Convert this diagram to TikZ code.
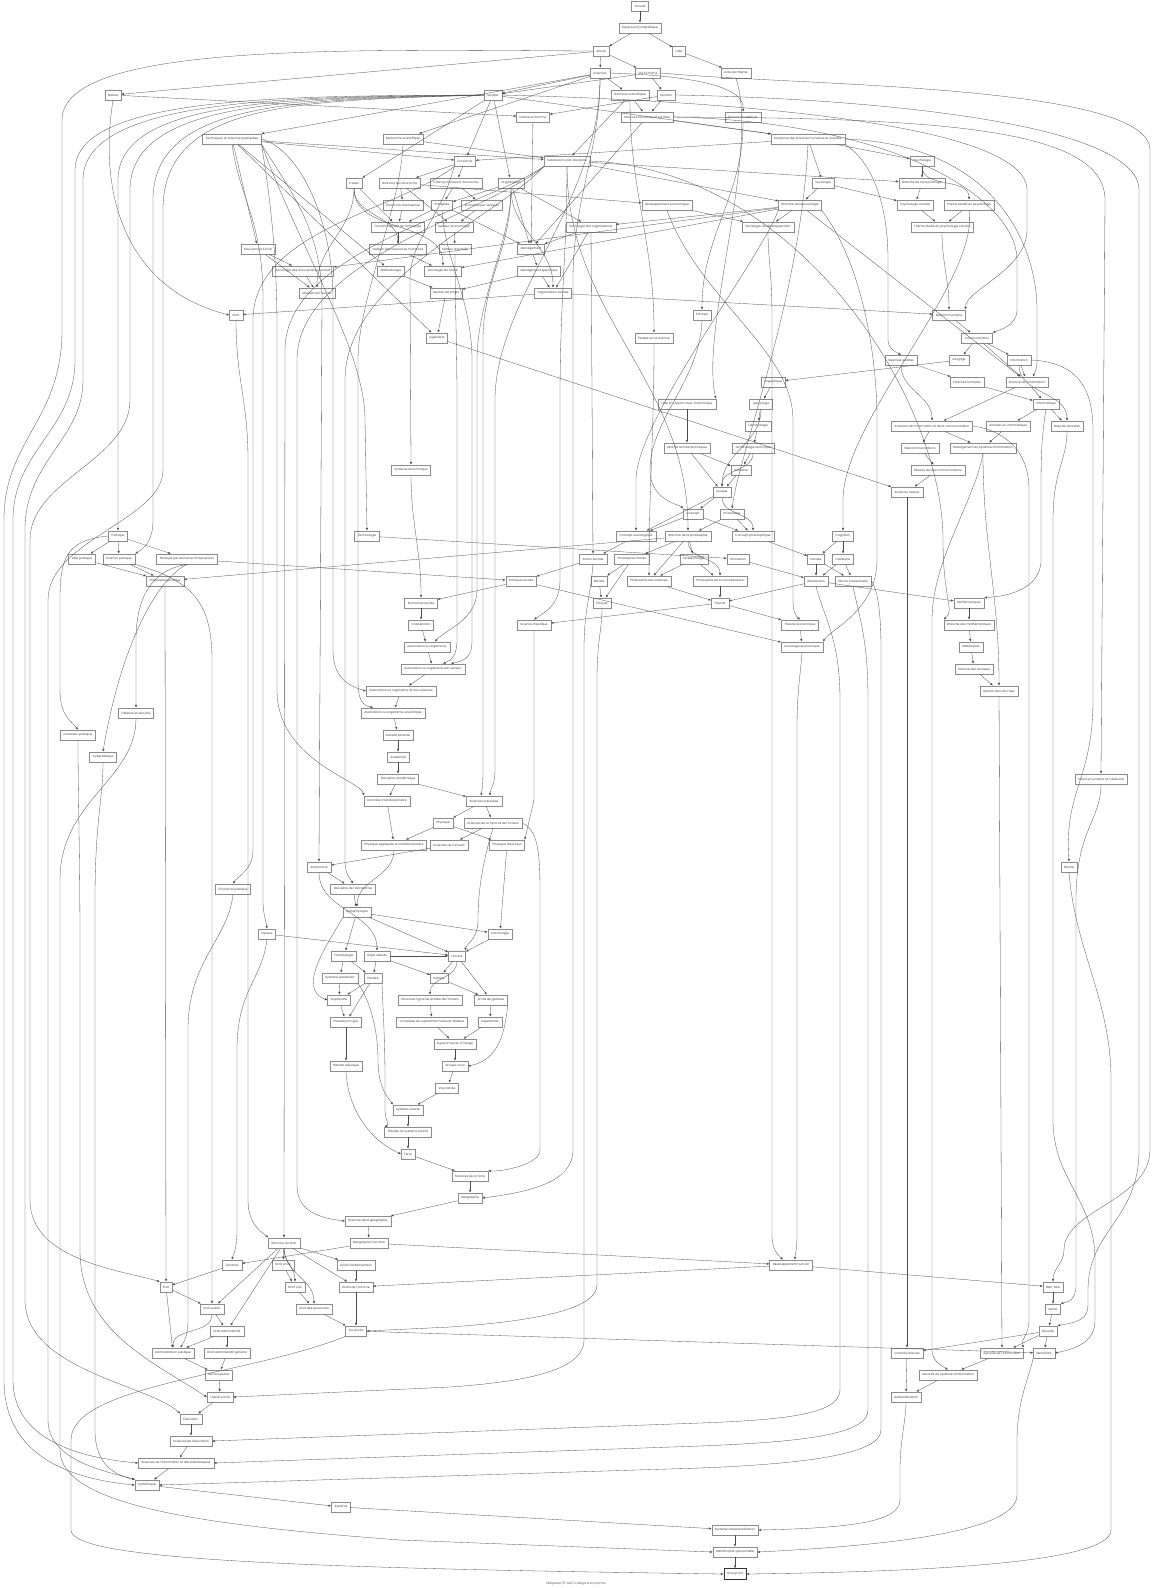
\documentclass[tikz,border=0pt]{standalone}
\usepackage{fontspec}
\setmainfont{Poppins}
\usetikzlibrary{arrows.meta}
\begin{document}
\begin{tikzpicture}[x=1pt,y=-1pt,
 nb/.style={draw=black!45,line width=0.35pt,inner xsep=3.2pt,inner ysep=0pt,minimum height=10.5pt,font=\fontsize{3.0}{3.5}\selectfont,text=black!75},
 ed/.style={draw=black!70,line width=0.3pt,-{Latex[length=2.6pt,width=2.2pt]}}]
\fill[white] (0,0) rectangle (1152,1588);
\useasboundingbox (0,0) rectangle (1152,1588);
% nodes
\node[nb] (acc) at (640,6) {Accueil};
\node[nb] (esp) at (640,28) {Espace encyclopédique};
\node[nb] (art) at (601,51) {Article};
\node[nb] (lst) at (679,51) {Liste};
\node[nb] (sci) at (600,73) {Sciences};
\node[nb] (vih) at (648,73) {Vie humaine};
\node[nb] (lpt) at (736,73) {Liste par thème};
\node[nb] (nat) at (113,95) {Nature};
\node[nb] (soc) at (493,95) {Société};
\node[nb] (dsc) at (630,95) {Domaine scientifique};
\node[nb] (hum) at (666,95) {Humain};
\node[nb] (nah) at (533,117) {Nature et homme};
\node[nb] (shs) at (647,117) {Sciences humaines et sociales};
\node[nb] (ens) at (743,117) {Énoncé scientifique};
\node[nb] (tsa) at (232,139) {Techniques et sciences appliquées};
\node[nb] (rsc) at (403,139) {Recherche scientifique};
\node[nb] (dsh) at (808,139) {Discipline des sciences humaines et sociales};
\node[nb] (eco) at (465,161) {Économie};
\node[nb] (sub) at (567,161) {Subdivisions par discipline};
\node[nb] (psy) at (922,161) {Psychologie};
\node[nb] (tra) at (354,183) {Travail};
\node[nb] (bec) at (400,183) {Branche de l'économie};
\node[nb] (cce) at (456,183) {Champ connexe à l'économie};
\node[nb] (org) at (511,183) {Organisation};
\node[nb] (sol) at (823,183) {Sociologie};
\node[nb] (bps) at (922,183) {Branche de la psychologie};
\node[nb] (ede) at (403,205) {Économie d'entreprise};
\node[nb] (ent) at (442,205) {Entreprise};
\node[nb] (eps) at (482,205) {Économie par secteurs};
\node[nb] (dev) at (667,205) {Développement économique};
\node[nb] (bso) at (800,205) {Branche de la sociologie};
\node[nb] (pss) at (915,205) {Psychologie sociale};
\node[nb] (tep) at (969,205) {Thème étudié en psychologie};
\node[nb] (fen) at (398,227) {Fonctionnement de l'entreprise};
\node[nb] (sec) at (454,227) {Secteur économique};
\node[nb] (sor) at (591,227) {Sociologie des organisations};
\node[nb] (sdv) at (768,227) {Sociologie du développement};
\node[nb] (teps) at (942,227) {Thème étudié en psychologie sociale};
\node[nb] (grh) at (398,249) {Gestion des ressources humaines};
\node[nb] (sac) at (455,249) {Secteur d'activité};
\node[nb] (man) at (531,249) {Management};
\node[nb] (mso) at (258,249) {Mouvement social};
\node[nb] (sms) at (303,271) {Sociologie des mouvements sociaux};
\node[nb] (met) at (391,271) {Méthodologie};
\node[nb] (stv) at (443,271) {Sociologie du travail};
\node[nb] (msp) at (539,271) {Management spécifique};
\node[nb] (mou) at (317,293) {Mouvement ouvrier};
\node[nb] (gdp) at (446,293) {Gestion de projet};
\node[nb] (ors) at (553,293) {Organisation sociale};
\node[nb] (dro) at (236,315) {Droit};
\node[nb] (pri) at (702,315) {Principe};
\node[nb] (rhu) at (949,315) {Relation humaine};
\node[nb] (ing) at (437,338) {Ingénierie};
\node[nb] (ess) at (654,338) {Études sur la science};
\node[nb] (com) at (977,338) {Communication};
\node[nb] (sex) at (901,360) {Sciences exactes};
\node[nb] (lan) at (959,360) {Langage};
\node[nb] (inf) at (1019,360) {Information};
\node[nb] (lin) at (773,382) {Linguistique};
\node[nb] (sfo) at (967,382) {Sciences formelles};
\node[nb] (sdi) at (1027,382) {Science de l'information};
\node[nb] (lrt) at (687,404) {Liste en rapport avec la technique};
\node[nb] (lex) at (761,404) {Lexicologie};
\node[nb] (inm) at (1046,404) {Informatique};
\node[nb] (ter) at (758,426) {Terminologie};
\node[nb] (sic) at (932,426) {Sciences de l'information et de la communication};
\node[nb] (aci) at (1008,426) {Activités en informatique};
\node[nb] (bdd) at (1067,426) {Base de données};
\node[nb] (ltt) at (687,448) {Liste de termes techniques};
\node[nb] (tet) at (753,448) {Terminologie technique};
\node[nb] (tel) at (920,448) {Télécommunications};
\node[nb] (msi) at (983,448) {Management du système d'information};
\node[nb] (sye) at (411,470) {Système économique};
\node[nb] (glo) at (741,470) {Glossaire};
\node[nb] (rtl) at (938,470) {Réseau de télécommunications};
\node[nb] (lxq) at (722,492) {Lexique};
\node[nb] (acr) at (907,492) {Accès au réseau};
\node[nb] (cpt) at (693,514) {Concept};
\node[nb] (phi) at (732,514) {Philosophie};
\node[nb] (pol) at (118,536) {Politique};
\node[nb] (tec) at (367,536) {Technologie};
\node[nb] (cso) at (636,536) {Concept sociologique};
\node[nb] (bph) at (688,536) {Branche de la philosophie};
\node[nb] (cph) at (753,536) {Concept philosophique};
\node[nb] (cog) at (843,536) {Cognition};
\node[nb] (idp) at (82,559) {Idée politique};
\node[nb] (spo) at (119,559) {Science politique};
\node[nb] (pdi) at (187,559) {Politique par domaine d'intervention};
\node[nb] (aso) at (593,559) {Action sociale};
\node[nb] (phm) at (632,559) {Philosophie morale};
\node[nb] (epi) at (694,559) {Épistémologie};
\node[nb] (inn) at (738,559) {Innovation};
\node[nb] (pen) at (816,559) {Pensée};
\node[nb] (cre) at (843,559) {Créativité};
\node[nb] (php) at (165,581) {Philosophie politique};
\node[nb] (pos) at (521,581) {Politique sociale};
\node[nb] (mor) at (599,581) {Morale};
\node[nb] (phs) at (649,581) {Philosophie des sciences};
\node[nb] (phc) at (720,581) {Philosophie de la connaissance};
\node[nb] (abs) at (816,581) {Abstraction};
\node[nb] (oin) at (853,581) {Œuvre intellectuelle};
\node[nb] (eso) at (421,603) {Économie sociale};
\node[nb] (eth) at (602,603) {Éthique};
\node[nb] (the) at (720,603) {Théorie};
\node[nb] (mat) at (969,603) {Mathématiques};
\node[nb] (coo) at (421,625) {Coopération};
\node[nb] (sth) at (534,625) {Science théorique};
\node[nb] (tho) at (800,625) {Théorie économique};
\node[nb] (bma) at (969,625) {Branche des mathématiques};
\node[nb] (aoo) at (427,647) {Association ou organisme};
\node[nb] (seo) at (802,647) {Sociologie économique};
\node[nb] (sta) at (971,647) {Statistiques};
\node[nb] (aop) at (433,669) {Association ou organisme par secteur};
\node[nb] (sdd) at (974,669) {Science des données};
\node[nb] (aol) at (401,691) {Association ou organisme lié aux sciences};
\node[nb] (gdd) at (999,691) {Gestion des données};
\node[nb] (aos) at (393,713) {Association ou organisme scientifique};
\node[nb] (des) at (136,713) {Défense et sécurité};
\node[nb] (ipo) at (78,735) {Institution politique};
\node[nb] (ssa) at (398,735) {Société savante};
\node[nb] (cyb) at (103,757) {Cybernétique};
\node[nb] (aca) at (398,757) {Académie};
\node[nb] (dac) at (398,779) {Discipline académique};
\node[nb] (shm) at (1101,779) {Science humaine et médecine};
\node[nb] (din) at (387,801) {Domaine interdisciplinaire};
\node[nb] (sna) at (484,801) {Sciences naturelles};
\node[nb] (phy) at (443,823) {Physique};
\node[nb] (stu) at (493,823) {Sciences de la Terre et de l'Univers};
\node[nb] (pai) at (394,845) {Physique appliquée et interdisciplinaire};
\node[nb] (sun) at (449,845) {Sciences de l'Univers};
\node[nb] (pth) at (507,845) {Physique théorique};
\node[nb] (ast) at (319,867) {Astronomie};
\node[nb] (nor) at (1069,867) {Norme};
\node[nb] (epu) at (233,889) {Économie publique};
\node[nb] (dda) at (353,889) {Discipline de l'astronomie};
\node[nb] (aph) at (357,912) {Astrophysique};
\node[nb] (spa) at (267,934) {Espace};
\node[nb] (cos) at (500,934) {Cosmologie};
\node[nb] (pla) at (344,956) {Planétologie};
\node[nb] (obc) at (377,956) {Objet céleste};
\node[nb] (uni) at (457,956) {Univers};
\node[nb] (spl) at (340,978) {Système planétaire};
\node[nb] (plt) at (373,978) {Planète};
\node[nb] (gal) at (439,978) {Galaxie};
\node[nb] (exo) at (339,1000) {Exoplanète};
\node[nb] (sge) at (430,1000) {Structure à grande échelle de l'Univers};
\node[nb] (ama) at (491,1000) {Amas de galaxies};
\node[nb] (ppt) at (346,1022) {Planète par type};
\node[nb] (csp) at (432,1022) {Complexe de superamas Poissons-Baleine};
\node[nb] (sup) at (490,1022) {Superamas};
\node[nb] (svi) at (455,1044) {Superamas de la Vierge};
\node[nb] (pte) at (346,1066) {Planète tellurique};
\node[nb] (glc) at (455,1066) {Groupe local};
\node[nb] (vla) at (447,1088) {Voie lactée};
\node[nb] (sso) at (408,1110) {Système solaire};
\node[nb] (pss2) at (408,1132) {Planète du système solaire};
\node[nb] (trr) at (408,1154) {Terre};
\node[nb] (sdt) at (470,1176) {Sciences de la Terre};
\node[nb] (geo) at (470,1198) {Géographie};
\node[nb] (bge) at (368,1221) {Branche de la géographie};
\node[nb] (bdr) at (284,1243) {Branche du droit};
\node[nb] (geh) at (369,1243) {Géographie humaine};
\node[nb] (trt) at (232,1265) {Territoire};
\node[nb] (dpr) at (283,1265) {Droit privé};
\node[nb] (dfo) at (356,1265) {Droits fondamentaux};
\node[nb] (dhu) at (791,1265) {Développement humain};
\node[nb] (eta) at (166,1287) {État};
\node[nb] (dci) at (295,1287) {Droit civil};
\node[nb] (dho) at (356,1287) {Droits de l'homme};
\node[nb] (bie) at (1053,1287) {Bien-être};
\node[nb] (dpu) at (212,1309) {Droit public};
\node[nb] (dpe) at (314,1309) {Droit des personnes};
\node[nb] (san) at (1053,1309) {Santé};
\node[nb] (dad) at (227,1331) {Droit administratif};
\node[nb] (vpr) at (356,1331) {Vie privée};
\node[nb] (secu) at (1048,1331) {Sécurité};
\node[nb] (adp) at (173,1353) {Administration publique};
\node[nb] (dag) at (227,1353) {Droit administratif général};
\node[nb] (cac) at (907,1353) {Contrôle d'accès};
\node[nb] (sin) at (1002,1353) {Sécurité de l'information};
\node[nb] (idt) at (1044,1353) {Identifiant};
\node[nb] (spu) at (219,1375) {Service public};
\node[nb] (ssi) at (948,1375) {Sécurité du système d'information};
\node[nb] (tso) at (220,1397) {Travail social};
\node[nb] (aut) at (906,1397) {Authentification};
\node[nb] (edu) at (191,1419) {Éducation};
\node[nb] (sed) at (191,1441) {Sciences de l'éducation};
\node[nb] (sib) at (176,1463) {Sciences de l'information et des bibliothèques};
\node[nb] (sys) at (147,1485) {Systémique};
\node[nb] (syt) at (341,1507) {Système};
\node[nb] (sau) at (735,1530) {Système d'authentification};
\node[nb] (idp2) at (735,1552) {Identification personnelle};
\node[nb,line width=0.9pt,draw=black!80] (ano) at (735,1574) {Anonymat};
\node[font=\fontsize{3.0}{3.5}\selectfont,text=black!65] (foot) at (576,1583) {Wikipédia (fr-wiki) Catégorie:Anonymat};
% straight edges
\foreach \a/\b in {acc/esp, esp/art, esp/lst, art/sci, art/vih, lst/lpt, art/nat, sci/soc, vih/soc, sci/dsc, vih/hum, nat/nah, hum/nah, dsc/shs, hum/shs, sci/tsa, sci/rsc, shs/dsh, soc/dsh, soc/eco, dsh/eco, tsa/eco, dsc/sub, tsa/sub, rsc/sub, dsh/psy, soc/tra, eco/bec, eco/cce, soc/org, dsh/sol, psy/bps, sub/bps, bec/ede, cce/ent, org/ent, cce/eps, bec/dev, sol/bso, sub/bso, bps/pss, sol/pss, ede/fen, ent/fen, tra/fen, eps/sec, bec/sec, org/sor, bso/sor, bso/sdv, dev/sdv, pss/teps, tep/teps, fen/grh, sec/sac, org/man, sor/man, shs/man, ent/man, nah/man, tsa/mso, mso/sms, bso/sms, tsa/met, grh/stv, bso/stv, man/msp, mso/mou, sms/mou, met/gdp, msp/gdp, msp/ors, sor/ors, ors/dro, ors/rhu, rhu/com, com/lan, com/inf, lan/lin, sex/sfo, com/sdi, inf/sdi, bso/sdi, lin/lex, sfo/inm, sdi/inm, lex/ter, sdi/sic, inm/aci, inm/bdd, lrt/ltt, ter/tet, sic/tel, sic/msi, aci/msi, tet/glo, ltt/glo, tel/rtl, glo/lxq, ltt/lxq, rtl/acr, ing/acr, lxq/cpt, cpt/cso, lxq/cso, phi/bph, cpt/cph, phi/cph, pol/idp, pol/spo, pol/pdi, cso/aso, sor/aso, bph/phm, bph/epi, tec/inn, cog/pen, cph/pen, cog/cre, idp/php, spo/php, bph/php, aso/pos, pdi/pos, phm/mor, epi/phs, bph/phs, epi/phc, pen/abs, cre/abs, inn/abs, cre/oin, pen/oin, pos/eso, mor/eth, phm/eth, phc/the, phs/the, abs/the, abs/mat, eso/coo, the/sth, the/tho, mat/bma, coo/aoo, tho/seo, pos/seo, bma/sta, aoo/aop, sta/sdd, aop/aol, sdd/gdd, aol/aos, aos/ssa, ssa/aca, aca/dac, dac/din, dac/sna, sna/phy, sna/stu, din/pai, phy/pai, stu/sun, phy/pth, sun/ast, ast/dda, dda/aph, aph/cos, aph/pla, cos/uni, aph/uni, spa/uni, obc/uni, pla/spl, pla/plt, obc/plt, uni/gal, obc/gal, spl/exo, plt/exo, uni/ama, gal/ama, exo/ppt, plt/ppt, sge/csp, ama/sup, csp/svi, sup/svi, ppt/pte, svi/glc, glc/vla, vla/sso, sso/pss2, pss2/trr, trr/sdt, sdt/geo, geo/bge, bge/geh, geh/trt, bdr/dpr, bdr/dfo, geh/dhu, trt/eta, dpr/dci, dfo/dho, bdr/dho, dhu/dho, dhu/bie, eta/dpu, bdr/dpu, dci/dpe, bie/san, dpu/dad, bdr/dad, dho/vpr, dpe/vpr, san/secu, eta/adp, dad/adp, dad/dag, secu/cac, secu/sin, secu/idt, vpr/idt, adp/spu, dag/spu, sin/ssi, spu/tso, cac/aut, ssi/aut, tso/edu, edu/sed, sed/sib, sib/sys, sys/syt, syt/sau, sau/idp2, idp2/ano, php/eta, gdd/sin, acr/cac, tsa/ing, gdp/ing, pth/cos}
  \draw[ed] (\a) -- (\b);
% simple curves
\foreach \a/\b in {psy/tep, tra/grh, tra/stv, tra/mou, org/ors, teps/rhu, inf/bdd, sex/sic, msi/gdd, tet/lxq, lex/lxq, sub/bph, lxq/cph, bph/phc, sye/eso, pai/aph, ast/obc, uni/sge, bdr/dci, bdr/dpe, dpu/adp, ens/pri, dsc/ess, ess/phs}
  \draw[ed] (\a) to[out=-90,in=90] (\b);
% routed curves
\draw[ed] (sci.east) .. controls (700,76) and (745,88) .. (ens.north);
\draw[ed] (pol.west) .. controls (65,540) and (60,560) .. (60,600) -- (60,690) .. controls (60,715) and (70,720) .. (ipo.north);
\draw[ed] (pdi.south) .. controls (150,570) and (136,600) .. (136,640) -- (des.north);
\draw[ed] (pdi.south) .. controls (155,580) and (120,650) .. (cyb.north);
\draw[ed] (sub.south) .. controls (567,250) and (560,300) .. (560,400) -- (560,580) .. controls (560,605) and (545,612) .. (sth.north);
\draw[ed] (stu.east) .. controls (540,830) and (540,860) .. (540,900) -- (540,1150) .. controls (540,1165) and (500,1172) .. (sdt.north east);
\draw[ed] (stu.south) .. controls (480,870) and (478,900) .. (478,920) .. controls (478,940) and (465,945) .. (uni.north east);
\draw[ed] (sth.south) .. controls (534,700) and (534,780) .. (534,800) -- (pth.north east);
\draw[ed] (aph.south west) to[out=-120,in=160] (exo.west);
\draw[ed] (ama.south east) .. controls (505,1030) and (500,1060) .. (glc.east);
\draw[ed] (spl.south east) .. controls (370,1000) and (378,1030) .. (378,1060) .. controls (378,1090) and (390,1100) .. (sso.north west);
\draw[ed] (plt.south east) .. controls (383,1010) and (385,1040) .. (385,1080) -- (385,1110) .. controls (385,1120) and (390,1125) .. (pss2.north west);
\draw[ed] (pte.south) .. controls (348,1110) and (370,1140) .. (trr.west);
% right side
\draw[ed] (vih.east) .. controls (800,86) and (1150,84) .. (1150,150) -- (1150,1150) .. controls (1150,1200) and (1064,1210) .. (1064,1250) to[out=-90,in=90] (bie.north);
\draw[ed] (hum.east) .. controls (850,98) and (1139,120) .. (1139,190) -- (1139,1150) .. controls (1139,1220) and (1088,1230) .. (1088,1290) -- (1088,1305) .. controls (1088,1318) and (1080,1322) .. (secu.north east);
\draw[ed] (inf.east) .. controls (1070,362) and (1093,380) .. (1093,430) -- (1093,700) .. controls (1093,780) and (1064,790) .. (nor.north);
\draw[ed] (nor.south) .. controls (1075,950) and (1111,1000) .. (1111,1080) -- (1111,1530) .. controls (1111,1565) and (900,1572) .. (ano.east);
\draw[ed] (shs.east) .. controls (950,118) and (1105,130) .. (1105,200) -- (shm.north);
\draw[ed] (shm.south) .. controls (1101,820) and (1076,830) .. (1076,900) -- (1076,1285) .. controls (1076,1300) and (1068,1302) .. (san.north east);
\draw[ed] (bdd.south) .. controls (1067,460) and (1053,470) .. (1053,520) -- (1053,1120) .. controls (1053,1180) and (1095,1200) .. (1095,1260) -- (1095,1320) .. controls (1095,1340) and (1080,1348) .. (idt.east);
\draw[ed] (sic.east) .. controls (990,428) and (1029,440) .. (1029,490) -- (1029,1320) .. controls (1029,1335) and (1020,1340) .. (sin.north east);
\draw[ed] (msi.south) .. controls (975,500) and (932,560) .. (932,620) -- (932,1350) .. controls (932,1360) and (940,1365) .. (ssi.north);
\draw[ed] (abs.south) .. controls (825,620) and (840,640) .. (840,700) -- (840,1390) .. controls (840,1415) and (780,1420) .. (700,1423) -- (sed.east);
\draw[ed] (oin.south) .. controls (860,620) and (868,640) .. (868,700) -- (868,1410) .. controls (868,1435) and (800,1442) .. (700,1446) -- (sib.east);
\draw[ed] (oin.east) .. controls (875,585) and (881,600) .. (881,650) -- (881,1430) .. controls (881,1455) and (800,1464) .. (700,1468) -- (sys.east);
\draw[ed] (aso.south) .. controls (590,600) and (584,610) .. (584,650) -- (584,1340) .. controls (584,1372) and (520,1382) .. (450,1387) -- (tso.east);
\draw[ed] (eth.south) .. controls (602,630) and (597,640) .. (597,680) -- (597,1285) .. controls (597,1312) and (520,1322) .. (450,1327) -- (vpr.east);
\draw[ed] (sci.south) .. controls (600,150) and (573,200) .. (573,280) -- (573,1150) .. controls (573,1182) and (530,1192) .. (geo.east);
\draw[ed] (sdv.south) .. controls (768,260) and (772,270) .. (772,320) -- (772,1235) .. controls (772,1250) and (778,1255) .. ([xshift=-8pt]dhu.north);
\draw[ed] (seo.south) .. controls (800,680) and (797,690) .. (797,730) -- (797,1235) .. controls (797,1250) and (795,1255) .. ([xshift=4pt]dhu.north);
\draw[ed] (idt.south west) .. controls (1030,1375) and (1017,1400) .. (1017,1440) -- (1017,1495) .. controls (1017,1530) and (900,1545) .. (idp2.east);
\draw[ed] (aut.south) .. controls (906,1420) and (900,1440) .. (900,1470) -- (900,1500) .. controls (900,1522) and (850,1528) .. (sau.east);
\draw[ed] (inm.south) .. controls (1041,440) and (1041,460) .. (1041,500) -- (1041,560) .. controls (1041,592) and (1000,597) .. (mat.north east);
\draw[ed] (sub.east) .. controls (800,170) and (943,400) .. (943,540) .. controls (943,600) and (955,610) .. (bma.north west);
\draw[ed] (bso.south west) .. controls (760,260) and (636,420) .. (636,480) -- (cso.north);
\draw[ed] (pri.south) .. controls (700,380) and (650,420) .. (650,470) .. controls (650,500) and (680,505) .. (cpt.north west);
\draw[ed] (dsh.south) .. controls (800,300) and (740,450) .. (phi.north);
\draw[ed] (tep.south) .. controls (980,280) and (843,420) .. (843,500) -- (cog.north);
\draw[ed] (dsh.south east) .. controls (870,160) and (888,200) .. (888,260) -- (888,340) .. controls (888,348) and (895,352) .. (sex.north);
\draw[ed] (dsh.east) .. controls (1000,145) and (1037,250) .. (1037,310) -- (1037,360) .. controls (1037,370) and (1034,374) .. ([xshift=6pt]sdi.north);
\draw[ed] (shs.east) .. controls (900,122) and (1017,200) .. (1017,260) -- (1017,310) .. controls (1017,325) and (1000,330) .. (com.north east);
\draw[ed] (soc.east) .. controls (700,100) and (1027,120) .. (1027,190) -- (1027,230) .. controls (1027,270) and (965,290) .. (rhu.north east);
\draw[ed] (lpt.south) .. controls (760,150) and (700,330) .. (lrt.north east);
\draw[ed] (dev.south) .. controls (700,300) and (793,350) .. (793,420) -- (793,600) .. controls (793,612) and (796,616) .. (tho.north);
\draw[ed] (bso.south east) .. controls (860,260) and (877,350) .. (877,420) -- (877,560) .. controls (877,610) and (830,630) .. (seo.north east);
\draw[ed] (eco.south west) .. controls (440,220) and (410,240) .. (410,280) -- (sye.north);
\draw[ed] (sac.south) .. controls (455,300) and (457,350) .. (457,400) -- (457,640) .. controls (457,655) and (452,660) .. ([xshift=10pt]aop.north);
\draw[ed] (ent.south) .. controls (445,260) and (472,300) .. (472,360) -- (472,640) .. controls (472,655) and (468,660) .. ([xshift=18pt]aop.north);
\draw[ed] (org.south) .. controls (511,240) and (477,300) .. (477,360) -- (477,590) .. controls (477,620) and (445,630) .. ([xshift=8pt]aoo.north);
\draw[ed] (org.south) .. controls (511,250) and (483,280) .. (483,340) -- (483,770) .. controls (483,785) and (482,790) .. ([xshift=-3pt]sna.north);
\draw[ed] (sci.south) .. controls (600,200) and (495,300) .. (495,400) -- (495,770) .. controls (495,785) and (490,790) .. ([xshift=6pt]sna.north);
\draw[ed] (tsa.south east) .. controls (300,250) and (365,350) .. (365,420) -- (tec.north);
% left side
\draw[ed] (art.west) .. controls (350,50) and (62,42) .. (62,120) -- (62,330) .. controls (62,420) and (4,440) .. (4,520) -- (4,1380) .. controls (4,1450) and (60,1478) .. (sys.west);
\draw[ed] (soc.west) .. controls (300,96) and (75,94) .. (75,170) -- (75,360) .. controls (75,430) and (13,450) .. (13,520) -- (13,1380) .. controls (13,1440) and (80,1458) .. (sib.west);
\draw[ed] (soc.west) .. controls (300,97) and (83,96) .. (83,180) -- (83,380) .. controls (83,440) and (25,460) .. (25,530) -- (25,1300) .. controls (25,1370) and (150,1385) .. (edu.north west);
\draw[ed] (soc.west) .. controls (300,98) and (118,97) .. (118,180) -- (pol.north);
\draw[ed] (soc.west) .. controls (300,99) and (130,99) .. (130,190) -- (130,400) .. controls (130,460) and (30,480) .. (30,540) -- (30,1200) .. controls (30,1260) and (120,1270) .. (eta.north west);
\draw[ed] (soc.west) .. controls (300,100) and (153,100) .. (153,200) -- (153,520) .. controls (153,540) and (145,548) .. (spo.north east);
\draw[ed] (soc.west) .. controls (300,101) and (163,101) .. (163,210) -- (163,470) .. controls (163,520) and (48,540) .. (48,600) -- (48,1420) .. controls (48,1462) and (110,1472) .. (sys.north west);
\draw[ed] (des.south) .. controls (136,780) and (60,800) .. (60,880) -- (60,1450) .. controls (60,1505) and (200,1525) .. (400,1540) -- (idp2.west);
\draw[ed] (vpr.south west) .. controls (250,1375) and (71,1385) .. (71,1440) -- (71,1530) .. controls (71,1560) and (300,1568) .. (ano.west);
\draw[ed] (ipo.south) .. controls (78,800) and (80,850) .. (80,950) -- (80,1250) .. controls (80,1330) and (150,1360) .. (tso.west);
\draw[ed] (cyb.south) .. controls (103,800) and (95,820) .. (95,900) -- (95,1430) .. controls (95,1465) and (115,1475) .. (sys.north west);
\draw[ed] (spo.south east) .. controls (190,580) and (212,600) .. (212,660) -- (dpu.north);
\draw[ed] (epu.south) .. controls (228,940) and (188,960) .. (188,1030) -- (188,1320) .. controls (188,1335) and (185,1340) .. ([xshift=-14pt]adp.north east);
\draw[ed] (spa.south) .. controls (262,980) and (237,990) .. (237,1050) -- (237,1230) .. controls (237,1250) and (233,1255) .. (trt.north);
\draw[ed] (dro.south) .. controls (236,380) and (248,400) .. (248,460) -- (248,1200) .. controls (248,1225) and (262,1232) .. (bdr.north west);
\draw[ed] (sub.south west) .. controls (480,210) and (285,250) .. (285,350) -- (bdr.north);
\draw[ed] (sub.south west) .. controls (490,212) and (297,260) .. (297,360) -- (297,1185) .. controls (297,1212) and (320,1218) .. (bge.west);
\draw[ed] (sub.south west) .. controls (500,215) and (345,280) .. (345,380) -- (345,860) .. controls (345,875) and (350,878) .. (dda.north);
\draw[ed] (tsa.south east) .. controls (290,190) and (322,230) .. (322,300) -- (ast.north);
\draw[ed] (tsa.south) .. controls (240,200) and (263,220) .. (263,300) -- (263,900) .. controls (263,915) and (266,920) .. (spa.north);
\draw[ed] (eco.south west) .. controls (400,210) and (253,230) .. (253,320) -- (253,850) .. controls (253,870) and (238,876) .. (epu.north);
\draw[ed] (tsa.south east) .. controls (270,200) and (277,250) .. (277,330) -- (277,690) .. controls (277,760) and (360,780) .. (din.north west);
\draw[ed] (tsa.east) .. controls (300,150) and (333,220) .. (333,300) -- (333,650) .. controls (333,675) and (345,685) .. (aol.west);
\draw[ed] (rsc.south) .. controls (400,210) and (358,300) .. (358,360) -- (358,680) .. controls (358,700) and (362,705) .. ([xshift=12pt]aos.north west);
\draw[ed] (nat.south) .. controls (97,200) and (130,290) .. (dro.west);
\end{tikzpicture}
\end{document}
